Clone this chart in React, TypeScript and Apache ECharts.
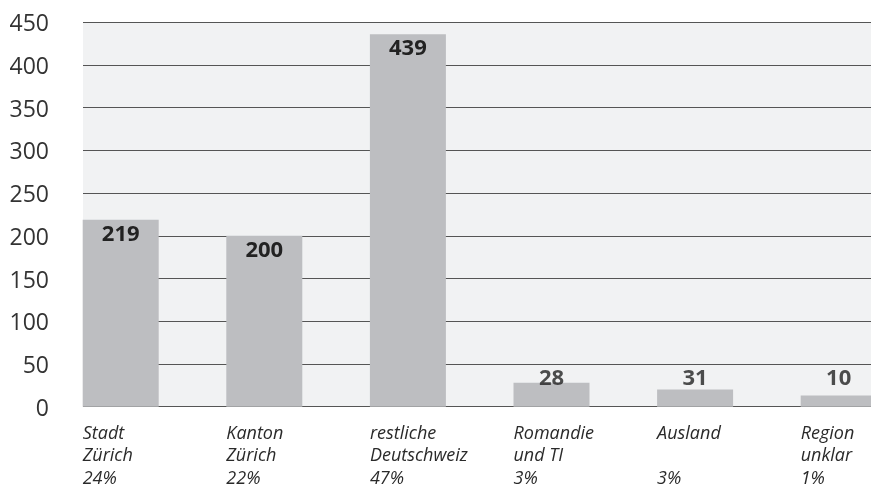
import React, { useEffect, useRef } from "react";
import * as echarts from "echarts";

const regions = ["Stadt\nZürich", "Kanton\nZürich", "restliche\nDeutschweiz", "Romandie\nund TI", "Ausland\n", "Region\nunklar"];
const shares = ["24%", "22%", "47%", "3%", "3%", "1%"];
// bar heights as drawn in the picture
const barValues = [219, 200, 436, 28, 20, 13];
// value labels printed on the bars
const labelValues = [219, 200, 439, 28, 31, 10];
// level (axis units) where labels of short bars sit
const labelFloor = 36;
const yTicks = { min: 0, max: 450, interval: 50 };

const FONT = "'Open Sans', 'Noto Sans', sans-serif";

export default function App() {
  const ref = useRef<HTMLDivElement>(null);
  useEffect(() => {
    if (!ref.current) return;
    const chart = echarts.init(ref.current, undefined, { renderer: "svg" });
    const top = 22.3;
    const bottom = 488 - 406.7;
    const catW = 143.6;
    const firstBarLeft = 82.7;
    const barW = 76;
    const n = regions.length;
    const barGridLeft = firstBarLeft + barW / 2 - catW / 2;
    const labelGridLeft = firstBarLeft - catW / 2;

    const insideIdx = barValues.map((v) => v >= labelFloor + 30);
    const labelText = (i: number) => String(labelValues[i]);

    chart.setOption({
      animation: false,
      textStyle: { fontFamily: FONT },
      grid: [
        { left: barGridLeft, width: n * catW, top, bottom, outerBoundsMode: "none", containLabel: false },
        { left: 83, right: 0, top, bottom, show: true, backgroundColor: "#f1f2f3", borderWidth: 0, outerBoundsMode: "none" },
        { left: labelGridLeft, width: n * catW, top, bottom, outerBoundsMode: "none", containLabel: false },
      ],
      xAxis: [
        { gridIndex: 0, type: "category", data: regions, show: false },
        { gridIndex: 1, type: "value", show: false, min: 0, max: 1 },
        {
          gridIndex: 2,
          type: "category",
          data: regions.map((r, i) => r + "\n" + shares[i]),
          axisLine: { show: false },
          axisTick: { show: false },
          splitLine: { show: false },
          axisLabel: {
            align: "left",
            interval: 0,
            margin: 14,
            fontSize: 18,
            lineHeight: 22.5,
            fontStyle: "italic",
            color: "#2a2a2a",
            fontFamily: FONT,
          },
        },
      ],
      yAxis: [
        { gridIndex: 0, type: "value", ...yTicks, show: false },
        {
          gridIndex: 1,
          type: "value",
          ...yTicks,
          axisLine: { show: false },
          axisTick: { show: false },
          splitLine: { show: true, lineStyle: { color: "#555", width: 1 } },
          axisLabel: { margin: 34, fontSize: 23, color: "#333", fontFamily: FONT },
        },
        { gridIndex: 2, type: "value", ...yTicks, show: false },
      ],
      series: [
        {
          type: "bar",
          xAxisIndex: 0,
          yAxisIndex: 0,
          barWidth: barW,
          itemStyle: { color: "#bdbec1" },
          data: barValues.map((v, i) => ({
            value: v,
            label: {
              show: insideIdx[i],
              position: "insideTop",
              distance: 1,
              formatter: () => labelText(i),
              fontSize: 22,
              lineHeight: 22,
              fontWeight: "bold",
              color: "#222",
              fontFamily: FONT,
            },
          })),
        },
        {
          type: "scatter",
          xAxisIndex: 0,
          yAxisIndex: 0,
          symbolSize: 0,
          silent: true,
          data: barValues
            .map((v, i) => (insideIdx[i] ? null : { value: [i, labelFloor], idx: i }))
            .filter((d) => d !== null)
            .map((d: any) => ({
              value: d.value,
              label: {
                show: true,
                position: "inside",
                formatter: () => labelText(d.idx),
                fontSize: 22,
                fontWeight: "bold",
                color: "#222",
                fontFamily: FONT,
              },
            })),
        },
      ],
    });
    return () => chart.dispose();
  }, []);
  return (
    <div
      ref={ref}
      style={{ position: "fixed", left: 0, top: 0, width: 871, height: 488 }}
    />
  );
}
